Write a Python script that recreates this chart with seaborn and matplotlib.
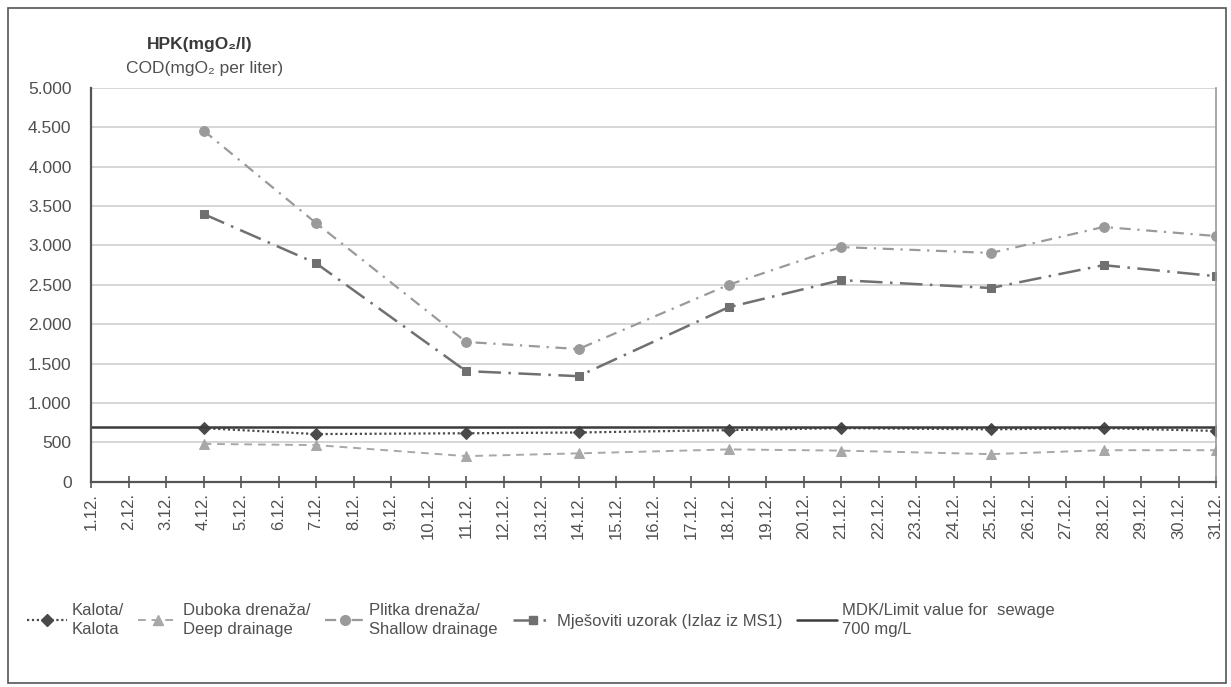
import matplotlib
matplotlib.use('Agg')
import matplotlib.pyplot as plt
import seaborn as sns
from matplotlib.patches import Rectangle
from matplotlib.lines import Line2D

# ---- data ----
days = list(range(1, 32))
tick_labels = [f"{d}.12." for d in days]
sample_days = [4, 7, 11, 14, 18, 21, 25, 28, 31]
kalota = [680, 605, 615, 625, 655, 680, 665, 680, 645]
duboka = [480, 465, 325, 360, 410, 395, 350, 400, 400]
plitka = [4460, 3285, 1775, 1685, 2500, 2980, 2905, 3235, 3120]
mjesoviti = [3400, 2775, 1405, 1340, 2215, 2560, 2460, 2750, 2610]
limit_days = [1, 31]
limit_vals = [700, 700]
y_ticks = [0, 500, 1000, 1500, 2000, 2500, 3000, 3500, 4000, 4500, 5000]
y_tick_labels = ["0", "500", "1.000", "1.500", "2.000", "2.500", "3.000",
                 "3.500", "4.000", "4.500", "5.000"]
labels = ["Kalota/\nKalota", "Duboka drenaža/\nDeep drainage",
          "Plitka drenaža/\nShallow drainage", "Mješoviti uzorak (Izlaz iz MS1)",
          "MDK/Limit value for  sewage\n700 mg/L"]

sns.set_theme(style='white')
plt.rcParams['font.family'] = ['Liberation Sans', 'DejaVu Sans']
plt.rcParams['font.size'] = 12

fig = plt.figure(figsize=(12.31, 6.87), dpi=100)
ax = fig.add_axes([91/1231, 1-481.7/687, (1216-91)/1231, (481.7-88)/687])

txt = '#505050'
styles = [
    dict(y=kalota, color='#4a4a4a', marker='D', ms=6, ls=(0, (1, 1.2)), lw=1.6),
    dict(y=duboka, color='#a8a8a8', marker='^', ms=7, ls=(0, (4, 3)), lw=1.4),
    dict(y=plitka, color='#9a9a9a', marker='o', ms=7, ls=(0, (5, 3, 1, 3)), lw=1.6),
    dict(y=mjesoviti, color='#707070', marker='s', ms=6, ls=(0, (9, 3, 1, 3)), lw=1.8),
]
handles = []
for s in styles:
    sns.lineplot(x=sample_days, y=s['y'], ax=ax, color=s['color'], marker=s['marker'],
                 markersize=s['ms'], markeredgecolor=s['color'], linewidth=s['lw'])
    ax.lines[-1].set_linestyle(s['ls'])
    handles.append(Line2D([], [], color=s['color'], marker=s['marker'], markersize=s['ms'],
                          markeredgecolor=s['color'], linestyle=s['ls'], linewidth=s['lw']))
sns.lineplot(x=limit_days, y=limit_vals, ax=ax, color='#3c3c3c', linewidth=1.8)
handles.append(Line2D([], [], color='#3c3c3c', linewidth=1.8))

ax.set_xlim(1, 31)
ax.set_ylim(0, 5000)
ax.set_xticks(days)
ax.set_xticklabels(tick_labels, rotation=90, color=txt, fontsize=12)
ax.set_yticks(y_ticks)
ax.set_yticklabels(y_tick_labels, color=txt, fontsize=12.5)
ax.tick_params(axis='x', direction='inout', length=8, width=1.2, color='#555555', pad=4, bottom=True)
ax.tick_params(axis='y', length=0, pad=14)
ax.yaxis.grid(True, color='#cfcfcf', linewidth=1.2)
ax.set_axisbelow(True)
ax.set_xlabel('')
ax.set_ylabel('')
for side in ['left', 'bottom']:
    ax.spines[side].set_color('#555555')
    ax.spines[side].set_linewidth(1.6)
ax.spines['top'].set_visible(False)
ax.spines['right'].set_color('#9a9a9a')
ax.spines['right'].set_linewidth(1.2)

fig.text(200/1231, 1-45/687, "HPK(mgO₂/l)", ha='center', va='center',
         fontsize=12.5, fontweight='bold', color='#3a3a3a')
fig.text(205/1231, 1-68/687, "COD(mgO₂ per liter)", ha='center', va='center',
         fontsize=12.5, color=txt)

leg = fig.legend(handles, labels, loc='upper left', bbox_to_anchor=(12/1231, 1-588/687),
                 ncol=5, frameon=False, handlelength=2.4, handletextpad=0.25,
                 columnspacing=0.9, fontsize=12)
for t in leg.get_texts():
    t.set_color(txt)
    t.set_linespacing(1.35)

fig.patches.append(Rectangle((8/1231, 4/687), (1226-8)/1231, (683-8)/687,
                             transform=fig.transFigure, fill=False,
                             edgecolor='#555555', linewidth=1.2))

fig.savefig('out.png', dpi=100)
